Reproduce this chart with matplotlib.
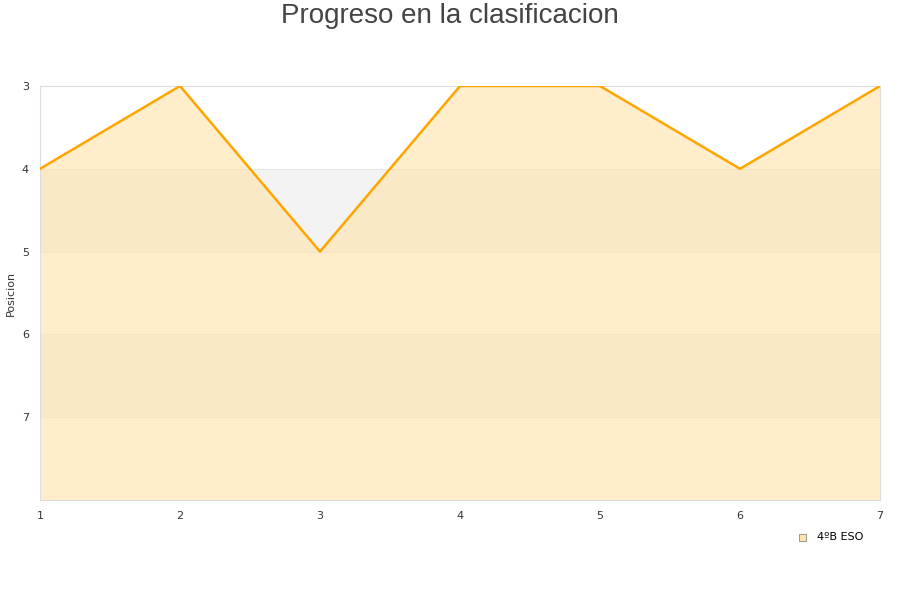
import matplotlib
matplotlib.use("Agg")
import matplotlib.pyplot as plt

# Data
jornadas = [1, 2, 3, 4, 5, 6, 7]
posiciones = [4, 3, 5, 3, 3, 4, 3]
serie = "4ºB ESO"
y_ticks = [3, 4, 5, 6, 7]

fig = plt.figure(figsize=(9, 6), dpi=100)
ax = fig.add_axes([40 / 900, 1 - 500 / 600, 840 / 900, 414 / 600])

# Alternating horizontal bands
for lo in [4, 6]:
    ax.axhspan(lo, lo + 1, color="#f3f3f3", zorder=0, lw=0)
for y in [4, 5, 6, 7]:
    ax.axhline(y, color="#e6e6e6", lw=0.8, zorder=0.5)

ax.fill_between(jornadas, posiciones, 8, color="#ffe4b0", alpha=0.65, lw=0, zorder=1)
ax.plot(jornadas, posiciones, color="#ffa500", lw=1.8, zorder=3)

ax.set_xlim(1, 7)
ax.set_ylim(8, 3)
ax.set_yticks(y_ticks)
ax.set_xticks(jornadas)
ax.tick_params(length=0, labelsize=8, colors="#333333")
ax.tick_params(axis="y", pad=8)
ax.tick_params(axis="x", pad=8)
for s in ax.spines.values():
    s.set_color("#dddddd")
    s.set_linewidth(0.8)

fig.text(11 / 900, 1 - 293 / 600, "Posicion", rotation=90, fontsize=8,
         color="#333333", ha="center", va="center")
fig.text(0.5, 1 - 16 / 600, "Progreso en la clasificacion", ha="center", va="center",
         fontsize=20, color="#444444", family="Liberation Sans")

# Legend
fig.patches.append(plt.Rectangle((799 / 900, 1 - 541 / 600), 7 / 900, 7 / 600,
                                 transform=fig.transFigure, facecolor="#ffe4b0",
                                 edgecolor="#888888", lw=0.6))
fig.text(817 / 900, 1 - 537 / 600, serie, fontsize=8, va="center", color="#000000")

fig.savefig("out.png", dpi=100)
